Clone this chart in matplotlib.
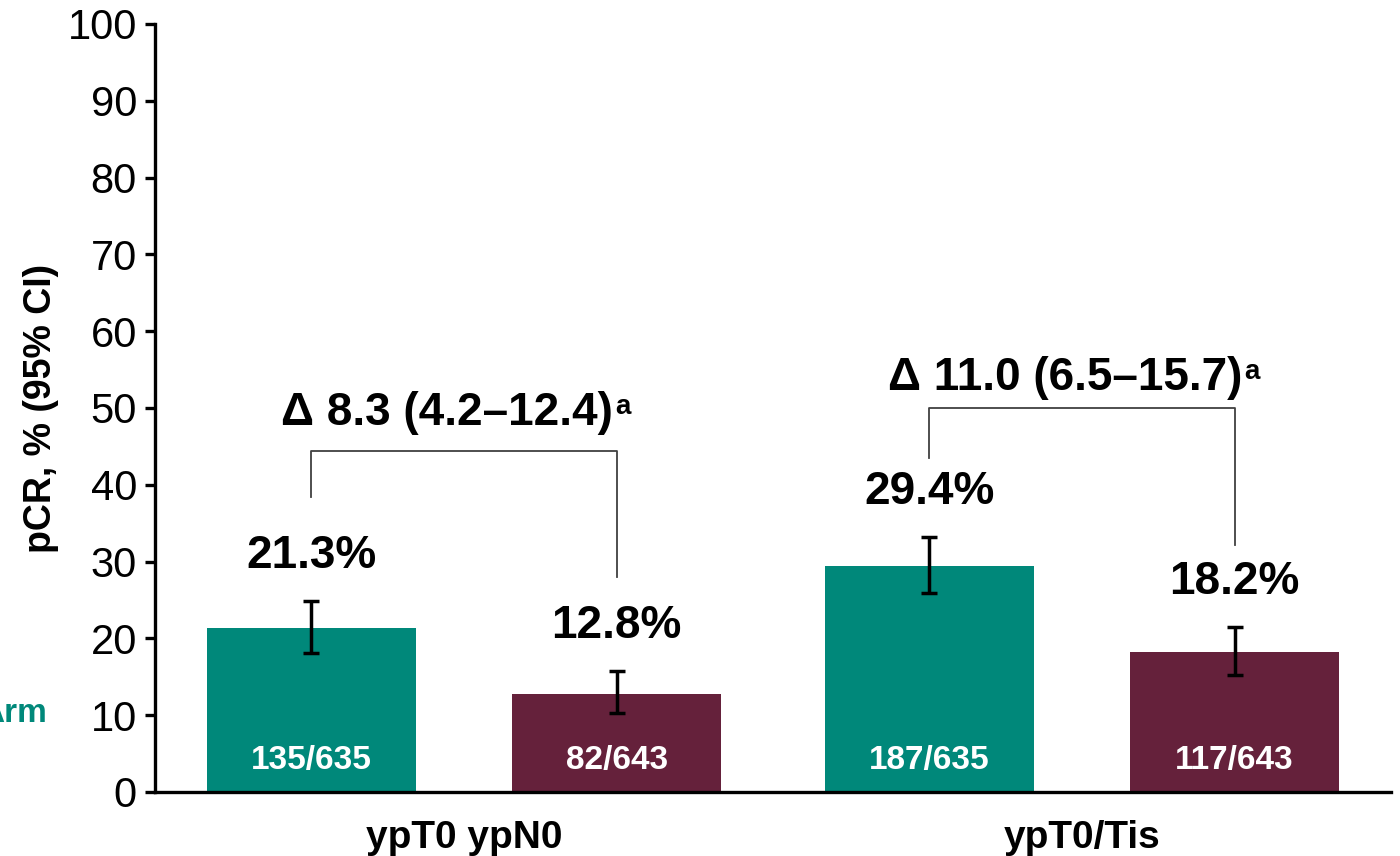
import matplotlib
matplotlib.use("Agg")
import matplotlib.pyplot as plt
import numpy as np

plt.rcParams["font.family"] = ["Liberation Sans", "DejaVu Sans"]

categories = ["ypT0 ypN0", "ypT0/Tis"]
arm_a = [21.3, 29.4]
arm_b = [12.8, 18.2]
arm_a_ci = [(18.1, 24.9), (25.9, 33.2)]
arm_b_ci = [(10.3, 15.8), (15.2, 21.5)]
arm_a_n = ["135/635", "187/635"]
arm_b_n = ["82/643", "117/643"]
deltas = ["Δ 8.3 (4.2–12.4)", "Δ 11.0 (6.5–15.7)"]
delta_y = [49.3, 53.9]
bracket_y = [44.4, 50.0]
bracket_left_foot = [38.4, 43.5]
bracket_right_foot = [28.0, 32.2]

TEAL = "#00887A"
MAROON = "#65213B"

fig = plt.figure(figsize=(14, 8.56), dpi=100)
ax = fig.add_axes([0.1107, 0.0748, 0.8829, 0.8972])

x = np.arange(len(categories))
w = 0.339
off = 0.247

for xs, vals, ci, ns, color in [
    (x - off, arm_a, arm_a_ci, arm_a_n, TEAL),
    (x + off, arm_b, arm_b_ci, arm_b_n, MAROON),
]:
    ax.bar(xs, vals, width=w, color=color, zorder=2)
    lo = [v - c[0] for v, c in zip(vals, ci)]
    hi = [c[1] - v for v, c in zip(vals, ci)]
    ax.errorbar(xs, vals, yerr=[lo, hi], fmt="none", ecolor="black",
                elinewidth=2.5, capsize=6, capthick=2.5, zorder=3)
    for xi, v, c, n in zip(xs, vals, ci, ns):
        ax.text(xi, c[1] + 5.8, f"{v}%", ha="center", va="center",
                fontsize=33, fontweight="bold")
        ax.text(xi, 4.1, n, ha="center", va="center", color="white",
                fontsize=24, fontweight="bold")

for i in range(len(categories)):
    xl, xr = x[i] - off, x[i] + off
    ax.plot([xl, xl, xr, xr],
            [bracket_left_foot[i], bracket_y[i], bracket_y[i], bracket_right_foot[i]],
            color="#404040", lw=1.3, zorder=1)
    t = ax.text(x[i] - 0.028, delta_y[i], deltas[i], ha="center", va="center",
                fontsize=33, fontweight="bold")
    # footnote marker as small raised "a"
    ax.annotate("a", xy=(1.0, 0.93), xycoords=t, xytext=(2, 0),
                textcoords="offset points", ha="left", va="top",
                fontsize=20, fontweight="bold")

ax.set_xlim(-0.5, 1.5)
ax.set_ylim(0, 100)
ax.set_yticks(range(0, 101, 10))
ax.set_xticks(x)
ax.set_xticklabels(categories, fontsize=28, fontweight="bold")
ax.tick_params(axis="x", length=0, pad=20)
ax.tick_params(axis="y", length=7, width=2.4, labelsize=30, pad=6)
ax.set_ylabel("pCR, % (95% CI)", fontsize=27, fontweight="bold", labelpad=6)

for s in ["top", "right"]:
    ax.spines[s].set_visible(False)
for s in ["left", "bottom"]:
    ax.spines[s].set_linewidth(2.4)

fig.text(47 / 1400, 1 - 713 / 856, "Arm", ha="right", va="center",
         color=TEAL, fontsize=24, fontweight="bold")

fig.savefig("out.png", dpi=100)
